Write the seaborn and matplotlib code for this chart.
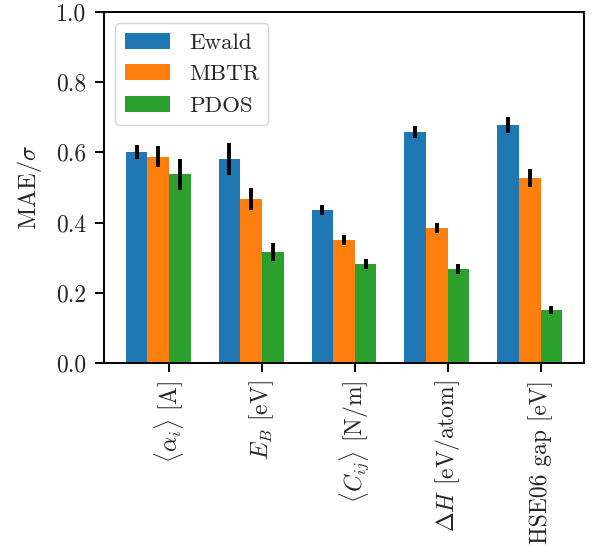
import numpy as np
import pandas as pd
import seaborn as sns
import matplotlib.pyplot as plt

# properties on the x axis
properties = [r'$\langle\alpha_i\rangle$ [A]', r'$E_B$ [eV]', r'$\langle C_{ij}\rangle$ [N/m]',
              r'$\Delta H$ [eV/atom]', 'HSE06 gap [eV]']
methods = ['Ewald', 'MBTR', 'PDOS']

# MAE/sigma
ewald = [0.600, 0.581, 0.436, 0.658, 0.678]
mbtr = [0.587, 0.467, 0.350, 0.385, 0.527]
pdos = [0.538, 0.316, 0.282, 0.268, 0.151]
# error bar half lengths
ewald_err = [0.020, 0.045, 0.014, 0.018, 0.022]
mbtr_err = [0.030, 0.032, 0.015, 0.014, 0.026]
pdos_err = [0.044, 0.025, 0.015, 0.014, 0.012]

sns.set_style('ticks')
plt.rcParams['font.family'] = 'serif'
plt.rcParams['font.serif'] = ['cmr10']
plt.rcParams['mathtext.fontset'] = 'cm'
plt.rcParams['axes.unicode_minus'] = False
plt.rcParams['axes.formatter.use_mathtext'] = True
plt.rcParams['axes.linewidth'] = 1.4
plt.rcParams['axes.edgecolor'] = 'black'

df = pd.DataFrame({
    'prop': properties * 3,
    'method': [m for m in methods for _ in properties],
    'val': ewald + mbtr + pdos,
})
errs = [ewald_err, mbtr_err, pdos_err]

fig = plt.figure(figsize=(5.93, 5.49), dpi=100)
ax = fig.add_axes([0.1754, 0.3388, 0.8094, 0.6394])
sns.barplot(data=df, x='prop', y='val', hue='method', order=properties, hue_order=methods,
            palette=['#1f77b4', '#ff7f0e', '#2ca02c'], width=0.7, errorbar=None,
            saturation=1, linewidth=0, ax=ax)

# error bars on top of every bar
for cont, err in zip(ax.containers, errs):
    xs = [p.get_x() + p.get_width() / 2 for p in cont.patches]
    ys = [p.get_height() for p in cont.patches]
    ax.errorbar(xs, ys, yerr=err, fmt='none', ecolor='black', elinewidth=2.8, capsize=0)

ax.set_xticks(np.arange(len(properties)) + 0.7 / 6)
ax.set_xticklabels(properties, rotation=90, fontsize=17)
ax.set_xlim(-0.35 - 0.235, len(properties) - 1 + 0.35 + 0.235)
ax.set_ylim(0, 1.0)
ax.set_yticks([0.0, 0.2, 0.4, 0.6, 0.8, 1.0])
ax.set_yticklabels(['0.0', '0.2', '0.4', '0.6', '0.8', '1.0'], fontsize=17)
ax.set_xlabel('')
ax.set_ylabel(r'MAE/$\sigma$', fontsize=17.5, labelpad=9)
ax.tick_params(direction='out', length=6.5, width=1.4, color='black')
ax.tick_params(axis='y', pad=6)
ax.tick_params(axis='x', pad=6)
for s in ax.spines.values():
    s.set_visible(True)

h, l = ax.get_legend_handles_labels()
ax.legend(h, l, loc='upper left', fontsize=16.5, frameon=True, fancybox=True,
          edgecolor='0.8', framealpha=0.8, title=None)

fig.savefig('out.png', dpi=100)
